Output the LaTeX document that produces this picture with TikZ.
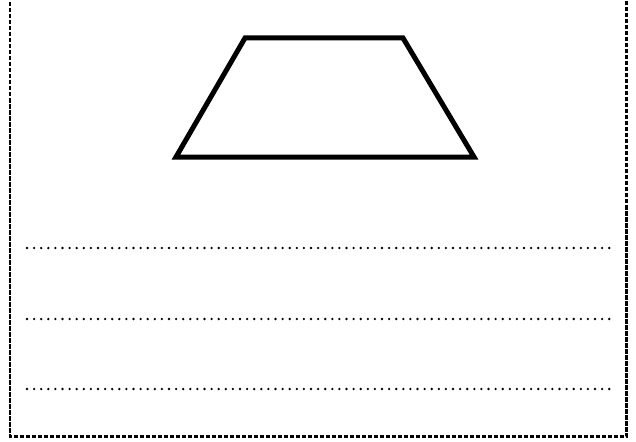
\documentclass[tikz,border=0pt]{standalone}
\begin{document}
\begin{tikzpicture}[x=1pt,y=-1pt,
  frame/.style={line width=2.2pt, dash pattern=on 4.5pt off 1.5pt},
  answerline/.style={line width=2.6pt, line cap=round, dash pattern=on 0pt off 7.1pt},
  trapline/.style={line width=5pt, line join=miter}]
\useasboundingbox (0,0) rectangle (636,441);
\clip (0,0) rectangle (636,441);
\coordinate (f1) at (10,-10);
\coordinate (f2) at (10,436.5);
\coordinate (f3) at (626.5,436.5);
\coordinate (f4) at (626.5,-10);
\draw[frame] (f1) -- (f2) -- (f3) -- (f4);
\coordinate (tl) at (245,38);
\coordinate (tr) at (403,38);
\coordinate (br) at (474,157);
\coordinate (bl) at (176,157);
\draw[trapline] (tl) -- (tr) -- (br) -- (bl) -- cycle;
\foreach \y/\n in {248/a,319/b,389/c}{
  \coordinate (\n1) at (27,\y);
  \coordinate (\n2) at (611,\y);
  \draw[answerline] (\n1) -- (\n2);
}
\end{tikzpicture}
\end{document}
